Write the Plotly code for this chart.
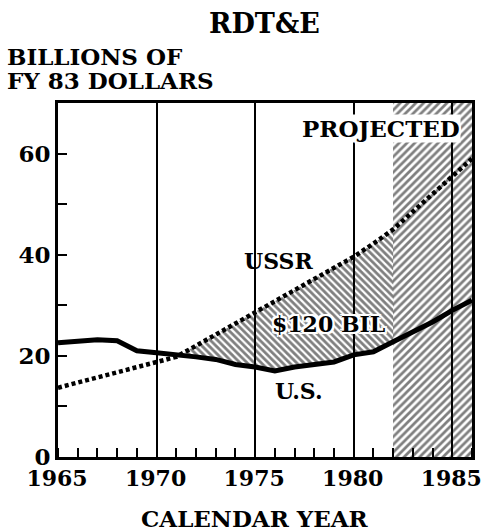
import numpy as np
import plotly.graph_objects as go

# DATA

years = list(range(1965, 1987))
us_spending = [22.6, 23.0, 23.2, 23.0, 21.0, 20.6, 20.3, 19.8, 19.3, 18.3,
               17.8, 17.0, 17.8, 18.2, 18.8, 20.2, 20.8, 22.8, 24.8, 26.7,
               29.0, 31.0]
ussr_spending = [13.7, 14.7, 15.7, 16.6, 17.6, 18.6, 19.8, 22.0, 24.2, 26.4,
                 28.7, 30.8, 33.0, 35.3, 37.5, 39.6, 42.2, 45.0, 48.5, 52.0,
                 55.4, 59.0]
projected_start = 1982
projected_end = 1986
y_max = 70
x_tick_years = [1965, 1970, 1975, 1980, 1985]
y_tick_values = [0, 20, 40, 60]

FONT = "DejaVu Serif"

# GAP AREA BETWEEN USSR AND U.S. (from where USSR passes U.S. to the projection)

yrs = np.array(years, dtype=float)
us = np.array(us_spending)
ussr = np.array(ussr_spending)
diff = ussr - us
i = int(np.argmax(diff > 0))
cross_x = yrs[i - 1] + (yrs[i] - yrs[i - 1]) * (-diff[i - 1]) / (diff[i] - diff[i - 1])
cross_y = np.interp(cross_x, yrs, us)
mask = (yrs >= yrs[i]) & (yrs <= projected_start)
gap_x = [cross_x] + list(yrs[mask]) + list(yrs[mask][::-1]) + [cross_x]
gap_y = [cross_y] + list(ussr[mask]) + list(us[mask][::-1]) + [cross_y]

fig = go.Figure()

# projected period, hatched
fig.add_trace(go.Bar(
    x=[(projected_start + projected_end) / 2], y=[y_max],
    width=[projected_end - projected_start],
    marker=dict(color="rgba(0,0,0,0)", line=dict(width=0),
                pattern=dict(shape="/", fgcolor="black", bgcolor="rgba(0,0,0,0)",
                             size=5.5, solidity=0.5)),
    hoverinfo="skip", showlegend=False,
))

fig.add_trace(go.Scatter(
    x=gap_x, y=gap_y, mode="none", fill="toself",
    fillcolor="rgba(0,0,0,0)",
    fillpattern=dict(shape="\\", fgcolor="black", bgcolor="rgba(0,0,0,0)",
                     size=5, solidity=0.55),
    hoverinfo="skip", showlegend=False,
))

fig.add_trace(go.Scatter(
    x=years, y=us_spending, mode="lines",
    line=dict(color="black", width=5), name="U.S.", showlegend=False,
))
fig.add_trace(go.Scatter(
    x=years, y=ussr_spending, mode="lines",
    line=dict(color="black", width=4.5, dash="4px,3px"), name="USSR", showlegend=False,
))

# LABELS

halo = "2px 0 0 white, -2px 0 0 white, 0 2px 0 white, 0 -2px 0 white, 2px 2px 0 white, -2px -2px 0 white, 2px -2px 0 white, -2px 2px 0 white"
lbl = dict(family=FONT, size=22, color="black", weight="bold")
mid = dict(showarrow=False, xanchor="center", yanchor="middle")

fig.add_annotation(x=1976.2, y=38.8, text="USSR", font=lbl, **mid)
fig.add_annotation(x=1978.7, y=26.3, text="$120 BIL", font=dict(lbl, shadow=halo), **mid)
fig.add_annotation(x=1977.2, y=13.1, text="U.S.", font=lbl, **mid)
fig.add_annotation(x=1981.4, y=64.9, text="PROJECTED", font=dict(lbl, size=23, shadow=halo),
                   bgcolor="white", borderpad=0, **mid)

big = dict(family=FONT, size=23, color="black", weight="bold")
fig.add_annotation(xref="paper", yref="paper", x=0.498, y=1.225, text="RDT&E",
                   font=dict(big, size=27), **mid)
fig.add_annotation(xref="paper", yref="paper", x=-0.128, y=1.132, text="BILLIONS OF",
                   font=big, showarrow=False, xanchor="left", yanchor="middle")
fig.add_annotation(xref="paper", yref="paper", x=-0.128, y=1.064, text="FY 83 DOLLARS",
                   font=big, showarrow=False, xanchor="left", yanchor="middle")
fig.add_annotation(xref="paper", yref="paper", x=0.476, y=-0.174, text="CALENDAR YEAR",
                   font=big, **mid)

# AXES

fig.update_xaxes(
    range=[years[0], projected_end], tickvals=x_tick_years,
    ticks="", showgrid=True, gridcolor="black", gridwidth=1.5,
    minor=dict(dtick=1, ticks="inside", ticklen=9, tickwidth=1.5, tickcolor="black", showgrid=False),
    showline=True, linecolor="black", linewidth=3, mirror=True,
    tickfont=dict(family=FONT, size=22, color="black", weight="bold"),
    ticklabeloverflow="allow", ticklabelshift=-1,
    zeroline=False, automargin=False,
)
fig.update_yaxes(
    range=[0, y_max], tickvals=y_tick_values,
    ticks="inside", ticklen=9, tickwidth=1.5, tickcolor="black",
    minor=dict(dtick=10, ticks="inside", ticklen=9, tickwidth=1.5, tickcolor="black", showgrid=False),
    showgrid=False, showline=True, linecolor="black", linewidth=3, mirror=True,
    tickfont=dict(family=FONT, size=23, color="black", weight="bold"),
    zeroline=False, automargin=False,
)

fig.update_layout(
    width=482, height=531,
    margin=dict(l=58, r=10, t=103, b=74),
    plot_bgcolor="white", paper_bgcolor="white",
    bargap=0,
)

# page body has an 8px default margin; drop it so the figure sits at the window corner
fig.write_html("out.html", config={"displayModeBar": False},
               post_script="document.body.style.margin = '0';")
